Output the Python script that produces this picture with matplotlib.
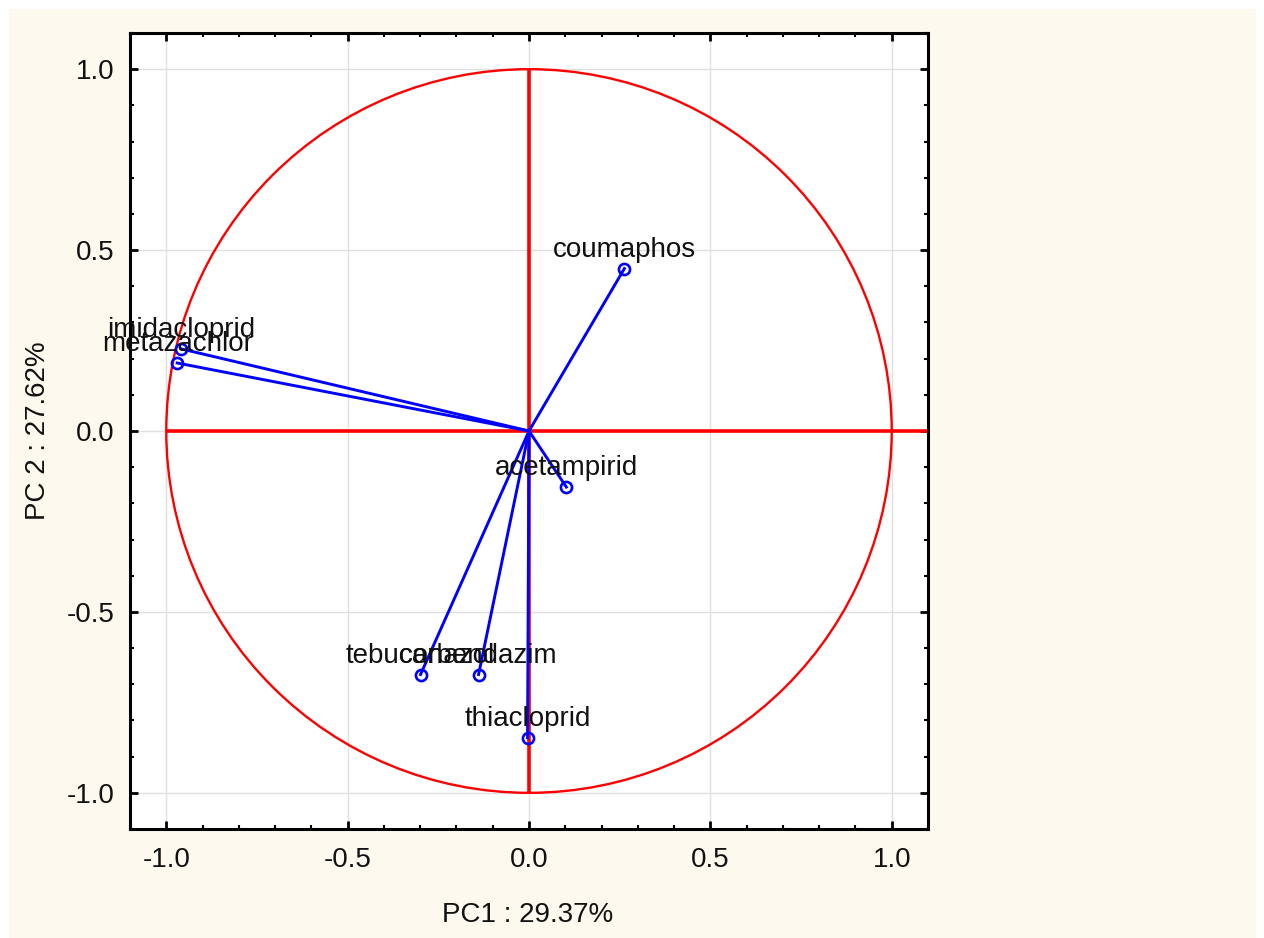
import numpy as np
import matplotlib
matplotlib.use("Agg")
import matplotlib.pyplot as plt
from matplotlib.patches import Rectangle, Circle
from matplotlib.ticker import MultipleLocator, FormatStrFormatter

plt.rcParams['font.family'] = ['Liberation Sans', 'DejaVu Sans']

# Data (loadings)
variables = ['coumaphos', 'acetampirid', 'imidacloprid', 'metazachlor',
             'tebuconazol', 'carbendazim', 'thiacloprid']
pc1 = [0.263, 0.103, -0.959, -0.970, -0.299, -0.139, -0.004]
pc2 = [0.449, -0.155, 0.227, 0.188, -0.673, -0.673, -0.848]
x_label = 'PC1 : 29.37%'
y_label = 'PC 2 : 27.62%'
tick_vals = [-1.0, -0.5, 0.0, 0.5, 1.0]

W, H, DPI = 1264, 938, 100
FS = 20
TXT = '#111111'
fig = plt.figure(figsize=(W / DPI, H / DPI), dpi=DPI, facecolor='white')
fig.patches.append(Rectangle((9 / W, 0), (1256 - 9) / W, (938 - 9) / H,
                             transform=fig.transFigure, facecolor='#fef9ee',
                             edgecolor='none', zorder=-5))

ax = fig.add_axes([130 / W, (H - 829) / H, (928 - 130) / W, (829 - 33) / H])
ax.set_zorder(2)
ax.set_facecolor('white')
ax.set_xlim(-1.1, 1.1)
ax.set_ylim(-1.1, 1.1)

# grid
ax.set_xticks(tick_vals)
ax.set_yticks(tick_vals)
ax.xaxis.set_minor_locator(MultipleLocator(0.1))
ax.yaxis.set_minor_locator(MultipleLocator(0.1))
ax.xaxis.set_major_formatter(FormatStrFormatter('%.1f'))
ax.yaxis.set_major_formatter(FormatStrFormatter('%.1f'))
ax.grid(True, which='major', color='#e0e0e0', linewidth=1.0, zorder=0)
ax.set_axisbelow(True)

# unit circle and axes lines
ax.add_patch(Circle((0, 0), 1.0, fill=False, edgecolor='#ff0000', linewidth=1.7, zorder=2))
ax.plot([-1.0, 1.1], [0, 0], color='#ff0000', linewidth=2.6, zorder=2, solid_capstyle='butt')
ax.plot([0, 0], [-1.0, 1.0], color='#ff0000', linewidth=2.6, zorder=2, solid_capstyle='butt')

# loading vectors
for x, y, name in zip(pc1, pc2, variables):
    ax.plot([0, x], [0, y], color='#0000ff', linewidth=2.1, zorder=3)
    ax.plot([x], [y], marker='o', markersize=8, markerfacecolor='none',
            markeredgecolor='#0000ff', markeredgewidth=1.9, zorder=4)
    ax.annotate(name, (x, y), xytext=(0, 12), textcoords='offset pixels',
                ha='center', va='baseline', fontsize=FS, color=TXT, zorder=5)

for s in ax.spines.values():
    s.set_linewidth(2.2)
    s.set_color('black')

ax.tick_params(which='both', direction='in', top=True, right=True,
               labelsize=FS, colors='black', labelcolor=TXT)
ax.tick_params(which='major', length=6, width=2.0)
ax.tick_params(which='minor', length=3, width=1.5)
ax.tick_params(axis='x', which='major', pad=13)
ax.tick_params(axis='y', which='major', pad=11)

fig.text(528 / W, 1 - 915 / H, x_label, ha='center', va='center', fontsize=FS, color=TXT)
fig.text(38 / W, 1 - 431 / H, y_label, ha='center', va='center', fontsize=FS,
         rotation=90, color=TXT)

fig.savefig('out.png', dpi=DPI, facecolor=fig.get_facecolor())
